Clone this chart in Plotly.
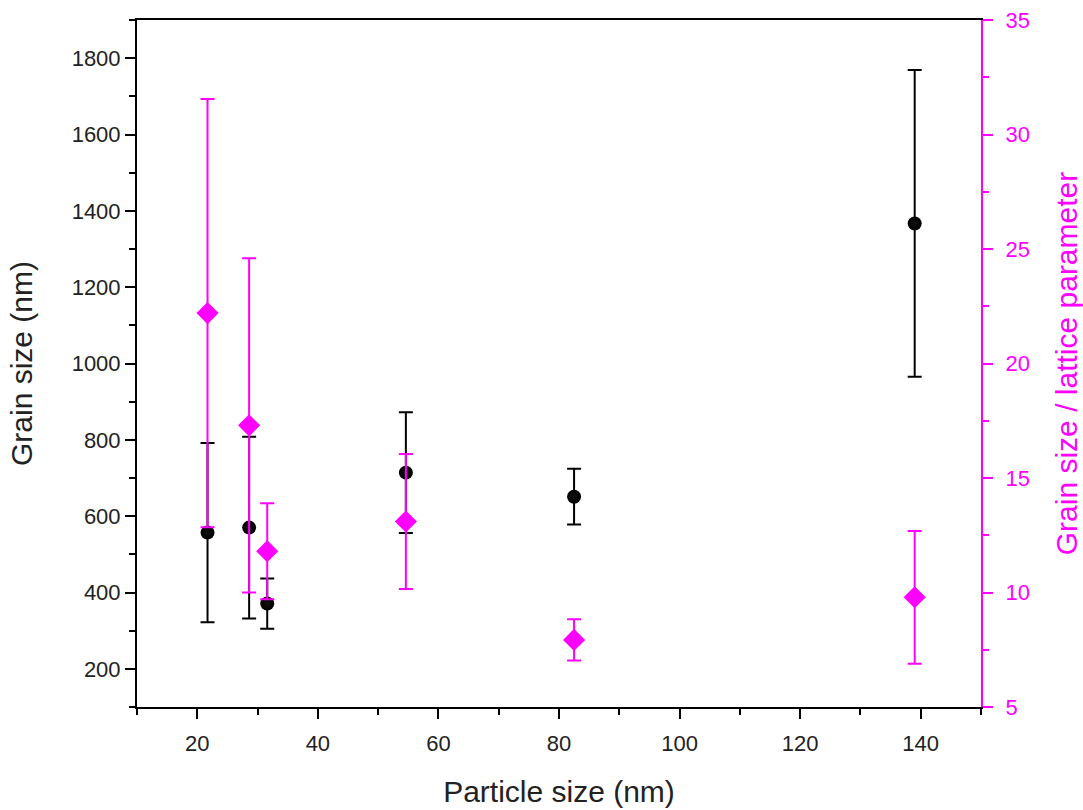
import plotly.graph_objects as go

# Data
particle_size = [21.7, 28.6, 31.6, 54.6, 82.5, 139.0]
grain_size = [557, 570, 371, 714, 651, 1367]
grain_err = [235, 238, 66, 158, 73, 402]
ratio = [22.2, 17.3, 11.8, 13.1, 7.93, 9.79]
ratio_err = [9.35, 7.3, 2.1, 2.95, 0.9, 2.9]

x_ticks = [20, 40, 60, 80, 100, 120, 140]
y_ticks = [200, 400, 600, 800, 1000, 1200, 1400, 1600, 1800]
y2_ticks = [5, 10, 15, 20, 25, 30, 35]

MAG = "#ff00ff"
FONT = "Liberation Sans, Arial, sans-serif"
TICK_SIZE = 22
TITLE_SIZE = 30

fig = go.Figure()

fig.add_trace(go.Scatter(
    x=particle_size, y=grain_size, mode="markers",
    marker=dict(color="black", size=14, symbol="circle",
                gradient=dict(type="radial", color="#111111"),
                line=dict(width=0)),
    error_y=dict(type="data", array=grain_err, visible=True,
                 color="black", thickness=2, width=7),
    showlegend=False, yaxis="y"))

fig.add_trace(go.Scatter(
    x=particle_size, y=ratio, mode="markers",
    marker=dict(color=MAG, size=17, symbol="diamond", line=dict(width=0)),
    error_y=dict(type="data", array=ratio_err, visible=True,
                 color=MAG, thickness=2, width=7),
    showlegend=False, yaxis="y2"))

fig.update_layout(
    width=1083, height=810,
    margin=dict(l=137, r=102, t=20, b=103, autoexpand=False),
    paper_bgcolor="white", plot_bgcolor="white",
    font=dict(family=FONT, size=TICK_SIZE, color="#222222"),
    xaxis=dict(
        range=[10, 150], tickvals=x_ticks, automargin=False,
        ticks="outside", ticklen=10, tickwidth=2, tickcolor="black",
        ticklabelstandoff=6,
        minor=dict(dtick=10, tick0=10, ticks="outside", ticklen=6,
                   tickwidth=2, tickcolor="black"),
        showline=True, linewidth=2, linecolor="black", mirror=True,
        showgrid=False, zeroline=False,
        title=dict(text="Particle size (nm)", font=dict(size=TITLE_SIZE), standoff=26),
    ),
    yaxis=dict(
        range=[100, 1900], tickvals=y_ticks, automargin=False,
        ticks="outside", ticklen=10, tickwidth=2, tickcolor="black",
        minor=dict(dtick=100, tick0=100, ticks="outside", ticklen=6,
                   tickwidth=2, tickcolor="black"),
        showline=True, linewidth=2, linecolor="black",
        showgrid=False, zeroline=False,
        title=dict(text="Grain size (nm)", font=dict(size=TITLE_SIZE), standoff=30),
    ),
    yaxis2=dict(
        overlaying="y", side="right", automargin=False,
        range=[5, 35], tickvals=y2_ticks,
        ticks="outside", ticklen=10, tickwidth=2, tickcolor=MAG,
        ticklabelstandoff=8,
        minor=dict(dtick=2.5, tick0=5, ticks="outside", ticklen=6,
                   tickwidth=2, tickcolor=MAG),
        showline=True, linewidth=2, linecolor=MAG,
        tickfont=dict(color=MAG, size=TICK_SIZE),
        showgrid=False, zeroline=False,
        title=dict(text="Grain size / lattice parameter",
                   font=dict(size=TITLE_SIZE, color=MAG), standoff=32),
    ),
)

fig.write_html("out.html")
